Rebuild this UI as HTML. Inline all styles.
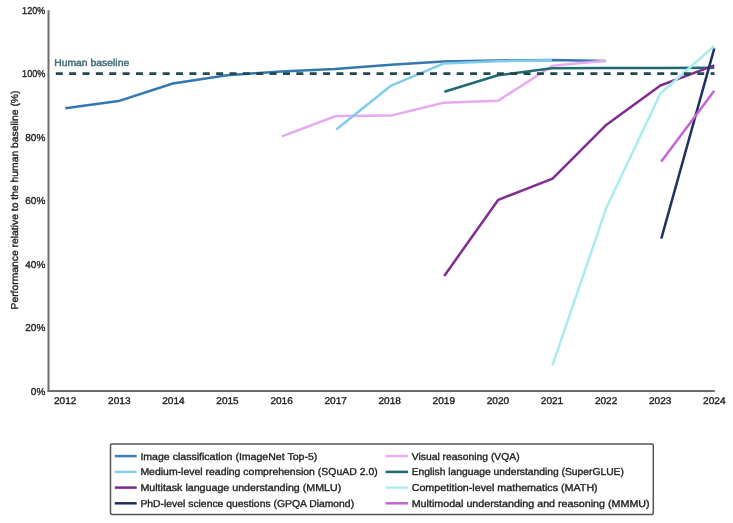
<!DOCTYPE html>
<html><head><meta charset="utf-8">
<style>
html,body{margin:0;padding:0;background:#fff;}
body{width:733px;height:523px;overflow:hidden;}
svg{display:block;filter:blur(0.35px);}
text{font-family:"Liberation Sans",sans-serif;stroke-linejoin:round;text-rendering:geometricPrecision;}
</style></head>
<body>
<svg width="733" height="523" viewBox="0 0 733 523">
<g fill="none" stroke-linejoin="round" stroke-linecap="butt">
  <!-- series -->
  <polyline stroke="#3476b0" stroke-width="2.5" points="65.3,108.3 118.5,101.1 172.8,83.5 227,75.2 281,71.5 335,69 391,64.7 443.5,61.6 498,60.5 552,60 605.5,61.1"/>
  <polyline stroke="#e6aaf0" stroke-width="2.5" points="281.9,136.4 335.9,116 390.7,115.6 443.5,102.7 498,100.8 552.5,65.8 605.5,60.7"/>
  <polyline stroke="#80cced" stroke-width="2.5" points="336.2,129.4 391.2,85.6 443.5,63.6 498,61.2 552,60.3"/>
  <polyline stroke="#1f6b72" stroke-width="2.5" points="444.4,91.8 498,75.2 552,68.3 605.5,68 660,67.9 714.3,67.7"/>
  <polyline stroke="#822c93" stroke-width="2.5" points="444.2,276 498.3,199.8 552.6,178.6 606.5,124.7 660.4,85.5 714.3,65.4"/>
  <polyline stroke="#22305f" stroke-width="2.5" points="661.3,238.6 714.3,48.3"/>
  <polyline stroke="#aaecee" stroke-width="2.5" points="552.4,365.4 606.5,207.5 660.4,93.5 714.3,46"/>
  <polyline stroke="#c466d2" stroke-width="2.5" points="661.1,161.8 714.3,90.8"/>
  <!-- baseline -->
  <line x1="55.8" y1="73.6" x2="714.5" y2="73.6" stroke="#1f4a4f" stroke-width="2.6" stroke-dasharray="7 6.364"/>
  <!-- axes -->
  <line x1="48.5" y1="10.3" x2="48.5" y2="392.1" stroke="#6e6e6e" stroke-width="2"/>
  <line x1="47.5" y1="391.1" x2="714.8" y2="391.1" stroke="#6e6e6e" stroke-width="2"/>
</g>
<text x="54.2" y="66.4" font-size="10" fill="#3a6771" stroke="#3a6771" stroke-width="0.4" textLength="75" lengthAdjust="spacingAndGlyphs">Human baseline</text>
<g font-size="10" fill="#222" stroke="#222" stroke-width="0.35" text-anchor="end">
  <text x="45.3" y="14.00" textLength="23.2" lengthAdjust="spacingAndGlyphs">120%</text>
  <text x="45.3" y="77.00" textLength="23.2" lengthAdjust="spacingAndGlyphs">100%</text>
  <text x="45.3" y="141.00">80%</text>
  <text x="45.3" y="204.00">60%</text>
  <text x="45.3" y="267.60">40%</text>
  <text x="45.3" y="331.00">20%</text>
  <text x="45.3" y="394.50">0%</text>
</g>
<g font-size="9.7" fill="#222" stroke="#222" stroke-width="0.35" text-anchor="middle">
  <text x="65.2" y="404.1" textLength="22.4" lengthAdjust="spacingAndGlyphs">2012</text>
  <text x="119.3" y="404.1" textLength="22.4" lengthAdjust="spacingAndGlyphs">2013</text>
  <text x="173.4" y="404.1" textLength="22.4" lengthAdjust="spacingAndGlyphs">2014</text>
  <text x="227.5" y="404.1" textLength="22.4" lengthAdjust="spacingAndGlyphs">2015</text>
  <text x="281.6" y="404.1" textLength="22.4" lengthAdjust="spacingAndGlyphs">2016</text>
  <text x="335.7" y="404.1" textLength="22.4" lengthAdjust="spacingAndGlyphs">2017</text>
  <text x="389.7" y="404.1" textLength="22.4" lengthAdjust="spacingAndGlyphs">2018</text>
  <text x="443.8" y="404.1" textLength="22.4" lengthAdjust="spacingAndGlyphs">2019</text>
  <text x="497.9" y="404.1" textLength="22.4" lengthAdjust="spacingAndGlyphs">2020</text>
  <text x="552.0" y="404.1" textLength="22.4" lengthAdjust="spacingAndGlyphs">2021</text>
  <text x="606.1" y="404.1" textLength="22.4" lengthAdjust="spacingAndGlyphs">2022</text>
  <text x="660.2" y="404.1" textLength="22.4" lengthAdjust="spacingAndGlyphs">2023</text>
  <text x="714.3" y="404.1" textLength="22.4" lengthAdjust="spacingAndGlyphs">2024</text>
</g>
<text transform="translate(18,200) rotate(-90)" font-size="10" fill="#222" stroke="#222" stroke-width="0.35" text-anchor="middle" textLength="219" lengthAdjust="spacingAndGlyphs">Performance relative to the human baseline (%)</text>
<!-- legend -->
<rect x="110.5" y="444" width="542.8" height="70.5" rx="1.5" fill="none" stroke="#555" stroke-width="1.5"/>
<g stroke-width="2.5" fill="none">
  <line x1="114.8" y1="456.1" x2="136.7" y2="456.1" stroke="#3d82bd"/>
  <line x1="114.8" y1="471.9" x2="136.7" y2="471.9" stroke="#86d0ef"/>
  <line x1="114.8" y1="487.6" x2="136.7" y2="487.6" stroke="#7d2a8e"/>
  <line x1="114.8" y1="503.3" x2="136.7" y2="503.3" stroke="#1e2b5c"/>
  <line x1="385.6" y1="456.1" x2="408.1" y2="456.1" stroke="#e9aef0"/>
  <line x1="385.6" y1="471.9" x2="408.1" y2="471.9" stroke="#1f6b72"/>
  <line x1="385.6" y1="487.6" x2="408.1" y2="487.6" stroke="#aeeef0"/>
  <line x1="385.6" y1="503.3" x2="408.1" y2="503.3" stroke="#c466d2"/>
</g>
<g font-size="10" fill="#222" stroke="#222" stroke-width="0.35">
  <text x="140.4" y="459.6" textLength="176.9" lengthAdjust="spacingAndGlyphs">Image classification (ImageNet Top-5)</text>
  <text x="140.4" y="475.4" textLength="237.3" lengthAdjust="spacingAndGlyphs">Medium-level reading comprehension (SQuAD 2.0)</text>
  <text x="140.4" y="491.1" textLength="200.8" lengthAdjust="spacingAndGlyphs">Multitask language understanding (MMLU)</text>
  <text x="140.4" y="506.8" textLength="213.7" lengthAdjust="spacingAndGlyphs">PhD-level science questions (GPQA Diamond)</text>
  <text x="411.7" y="459.6" textLength="108.0" lengthAdjust="spacingAndGlyphs">Visual reasoning (VQA)</text>
  <text x="411.7" y="475.4" textLength="212.2" lengthAdjust="spacingAndGlyphs">English language understanding (SuperGLUE)</text>
  <text x="411.7" y="491.1" textLength="186.0" lengthAdjust="spacingAndGlyphs">Competition-level mathematics (MATH)</text>
  <text x="411.7" y="506.8" textLength="237.9" lengthAdjust="spacingAndGlyphs">Multimodal understanding and reasoning (MMMU)</text>
</g>
</svg>
</body></html>
